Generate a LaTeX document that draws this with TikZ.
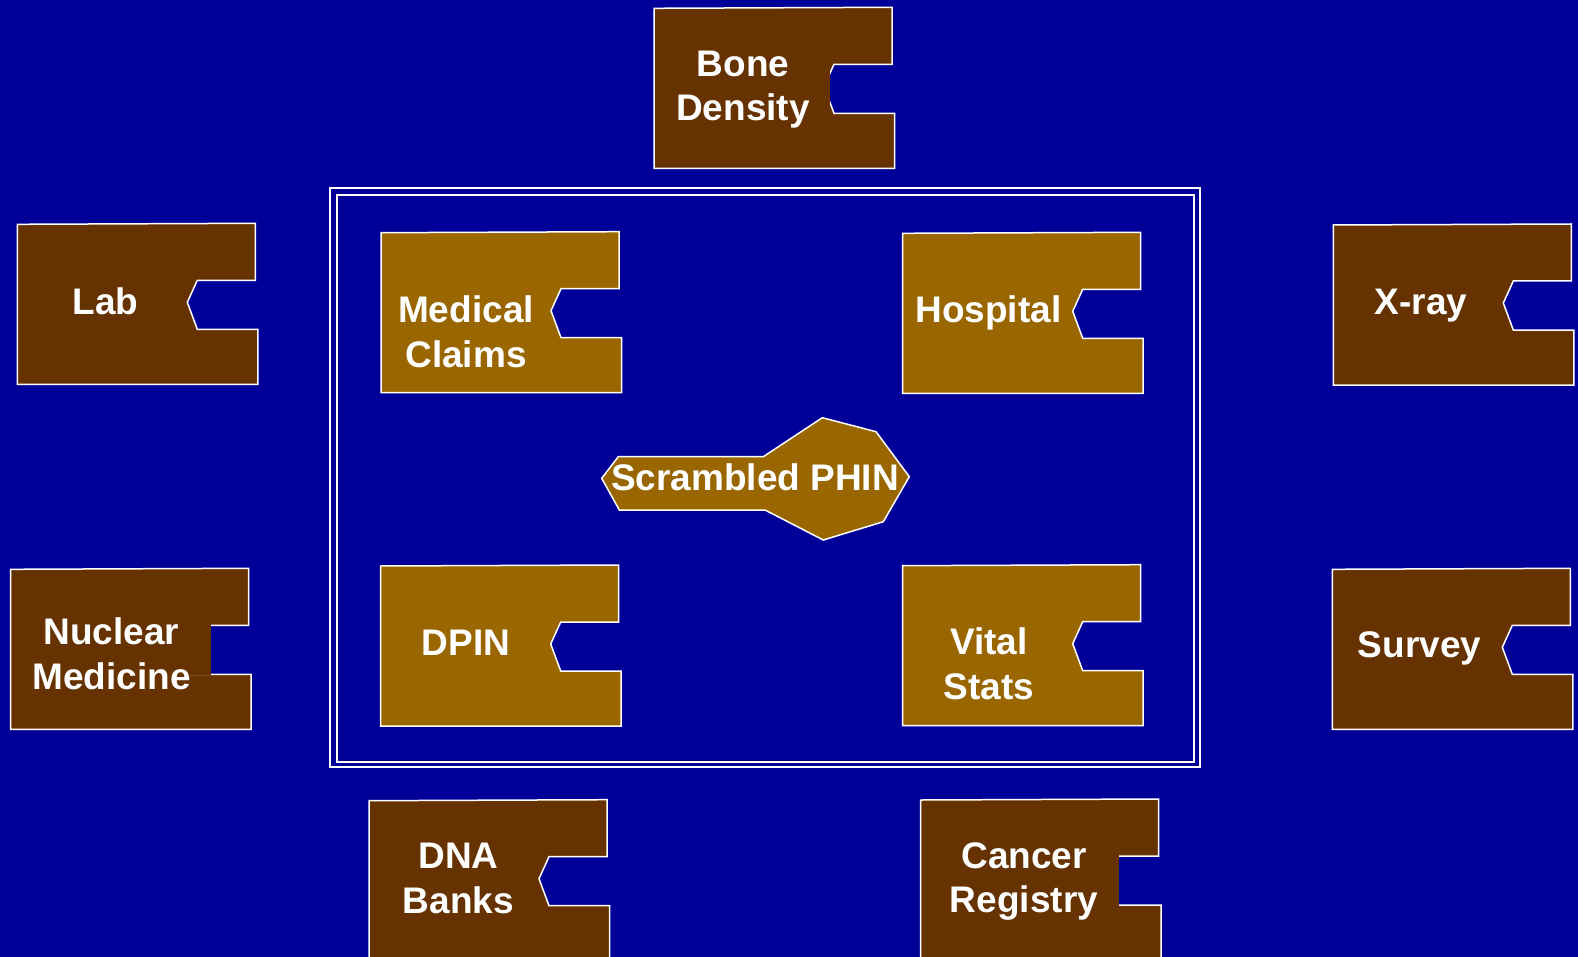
\documentclass[tikz,border=0pt]{standalone}
\usepackage{fontspec}
\setmainfont{Liberation Sans}
\definecolor{bg}{HTML}{000099}
\definecolor{darkpiece}{HTML}{663300}
\definecolor{lightpiece}{HTML}{996600}
\tikzset{
  piece/.style={draw=white, line width=1.5pt, line join=miter},
  lbl/.style={text=white, font=\fontsize{37}{44.5}\selectfont\bfseries, align=center, inner sep=0pt, anchor=base},
  cover/.style={fill=darkpiece, draw=none},
  frame/.style={draw=white, line width=2pt}
}
\newcommand\drawpiece[3]{%
  \path[piece, fill=#3, shift={(#1,#2)}] (0,0) -- (238,-1) -- (238,56) -- (180,56) -- (170,78) -- (180,105) -- (240.5,105) -- (240.5,160) -- (0,160) -- cycle;}
\begin{document}
\begin{tikzpicture}[x=1pt,y=-1pt]
\useasboundingbox (0,0) rectangle (1578,957);
\clip (0,0) rectangle (1578,957);
\fill[bg] (0,0) rectangle (1578,957);

% double frame
\draw[frame] (330,188.5) rectangle (1199.5,767);
\draw[frame] (336.5,195) rectangle (1194,762);

% outer pieces
\drawpiece{654}{8.3}{darkpiece}
\path[cover] (780,64.5) rectangle (829.8,112.5);
\drawpiece{17.3}{224.3}{darkpiece}
\drawpiece{1333.3}{225}{darkpiece}
\drawpiece{10.7}{569.3}{darkpiece}
\path[cover] (160,624.4) rectangle (211,675.2);
\drawpiece{1332.3}{569.3}{darkpiece}
\drawpiece{369}{800.7}{darkpiece}
\drawpiece{920.7}{800}{darkpiece}
\path[cover] (1070,855.1) rectangle (1118.5,905.9);

% inner pieces
\drawpiece{381}{232.7}{lightpiece}
\drawpiece{902.7}{233.3}{lightpiece}
\drawpiece{380.7}{566}{lightpiece}
\drawpiece{902.7}{565.7}{lightpiece}

% key
\path[piece, fill=lightpiece] (601.7,478.3) -- (618.3,456.7) -- (763.3,456.7) -- (822.3,417.7) -- (876,431.7) -- (909.3,476.7) -- (883.3,521.7) -- (823.3,540) -- (765,510) -- (619.3,510) -- cycle;

% labels (two-line labels anchored at the baseline of their last line)
\node[lbl] (bone) at (743,120.7) {Bone\\Density};
\node[lbl] (lab) at (105.7,315) {Lab};
\node[lbl] (xray) at (1421,314.3) {X-ray};
\node[lbl] (nuc) at (111.5,689.3) {Nuclear\\Medicine};
\node[lbl] (survey) at (1419.5,657.3) {Survey};
\node[lbl] (dna) at (458.4,913.3) {DNA\\Banks};
\node[lbl] (cancer) at (1024,912.7) {Cancer\\Registry};
\node[lbl] (medclaims) at (466,367) {Medical\\Claims};
\node[lbl] (hospital) at (988.3,322.7) {Hospital};
\node[lbl] (dpin) at (465.8,655) {DPIN};
\node[lbl] (vital) at (989,699.3) {Vital\\Stats};
\node[lbl] (phin) at (755,490) {Scrambled PHIN};
\end{tikzpicture}
\end{document}
